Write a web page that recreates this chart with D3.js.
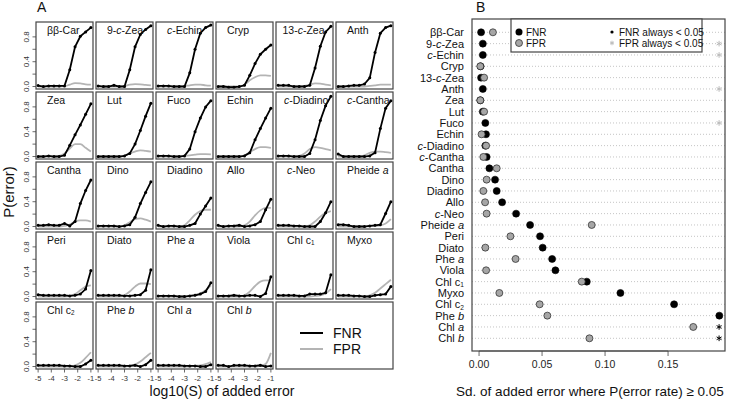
<!DOCTYPE html>
<html><head><meta charset="utf-8">
<script src="https://cdn.jsdelivr.net/npm/d3@7"></script>
<style>body{margin:0;background:#fff} text{font-family:"Liberation Sans",Arial,sans-serif;fill:#111}</style>
</head><body><svg id="c" width="729" height="401"></svg>
<script>
// ---------- data ----------
const pigments = ["ββ-Car","9-_c_-Zea","_c_-Echin","Cryp","13-_c_-Zea","Anth",
  "Zea","Lut","Fuco","Echin","_c_-Diadino","_c_-Cantha",
  "Cantha","Dino","Diadino","Allo","_c_-Neo","Pheide _a_",
  "Peri","Diato","Phe _a_","Viola","Chl c~1","Myxo",
  "Chl c~2","Phe _b_","Chl _a_","Chl _b_"];
const logS = [-5,-4.6,-4.2,-3.8,-3.4,-3,-2.6,-2.2,-1.8,-1.4,-1];
const fnrCurves = [
  [0.015,0.0,0.01,0.01,0.01,0.01,0.27,0.64,0.81,0.88,0.95],
  [0.01,0.0,0.0,0.02,0.0,0.0,0.27,0.64,0.84,0.92,0.98],
  [0.01,0.01,0.01,0.0,0.0,0.0,0.22,0.6,0.86,0.95,0.99],
  [0.0,0.0,-0.01,-0.01,0.0,0.02,0.18,0.37,0.52,0.6,0.67],
  [0.02,0.02,0.02,0.0,0.0,0.0,0.02,0.3,0.65,0.88,0.97],
  [0.0,0.0,0.01,0.02,0.02,0.04,0.14,0.55,0.86,0.95,0.98],
  [0.0,0.0,0.01,0.0,0.0,0.02,0.18,0.35,0.51,0.68,0.85],
  [0.0,0.0,0.0,0.0,0.0,0.01,0.05,0.2,0.42,0.65,0.86],
  [0.01,0.01,0.01,0.0,0.0,0.01,0.12,0.4,0.62,0.8,0.9],
  [0.0,0.0,0.0,0.0,0.0,0.01,0.06,0.27,0.45,0.62,0.78],
  [0.01,0.01,0.01,0.0,0.0,0.0,0.05,0.27,0.58,0.82,0.97],
  [0.04,0.0,0.0,0.0,0.0,0.0,0.01,0.06,0.45,0.78,0.9],
  [0.02,0.02,0.03,0.02,0.02,0.05,0.01,0.08,0.37,0.58,0.75],
  [0.01,0.01,0.01,0.01,0.0,0.01,0.03,0.15,0.37,0.55,0.72],
  [0.02,0.0,0.01,0.01,0.0,0.0,0.02,0.05,0.2,0.33,0.46],
  [0.02,0.0,0.01,0.01,0.02,0.0,0.01,0.03,0.08,0.27,0.44],
  [0.02,0.02,0.02,0.01,0.01,0.0,0.0,0.0,0.08,0.22,0.4],
  [0.03,0.03,0.02,0.0,0.0,0.0,0.01,0.02,0.03,0.21,0.4],
  [0.03,0.02,0.02,0.02,0.02,0.02,0.01,0.02,0.04,0.12,0.42],
  [0.02,0.02,0.02,0.02,0.02,0.01,0.01,0.02,0.03,0.1,0.43],
  [0.01,0.01,0.01,0.01,0.0,0.0,0.01,0.02,0.04,0.08,0.22],
  [0.01,0.01,0.01,0.02,0.01,0.01,0.02,0.02,0.0,0.05,0.32],
  [0.02,0.02,0.02,0.02,0.01,0.01,0.04,0.04,0.04,0.06,0.35],
  [0.02,0.02,0.02,0.01,0.01,0.0,0.0,0.02,0.03,0.04,0.16],
  [0.02,0.02,0.02,0.02,0.02,0.01,0.01,0.0,0.0,0.04,0.1],
  [0.02,0.02,0.02,0.02,0.02,0.01,0.01,0.02,0.0,0.03,0.1],
  [0.02,0.02,0.02,0.02,0.02,0.01,0.01,0.01,0.0,0.0,0.03],
  [0.02,0.02,0.0,0.02,0.02,0.02,0.01,0.01,0.02,0.0,0.01]
];
const fprCurves = [
  [0,0,0,0,0,0.005,0.03,0.055,0.05,0.035,0.03],
  [0,0,0,0,0,0.01,0.03,0.04,0.035,0.025,0.02],
  [0,0,0,0,0,0.005,0.02,0.03,0.03,0.02,0.015],
  [0,0,0,0,0,0.03,0.1,0.15,0.18,0.18,0.17],
  [0,0,0,0,0,0.01,0.03,0.05,0.045,0.03,0.02],
  [0,0,0,0,0,0,0.01,0.02,0.03,0.03,0.03],
  [0,0,0,0,0.01,0.05,0.13,0.2,0.2,0.14,0.08],
  [0,0,0,0,0,0.01,0.05,0.08,0.1,0.09,0.08],
  [0,0,0,0,0,0.01,0.02,0.03,0.04,0.04,0.035],
  [0,0,0,0,0,0.02,0.07,0.12,0.15,0.15,0.14],
  [0,0,0,0,0.01,0.05,0.12,0.15,0.14,0.12,0.1],
  [0,0,0,0,0,0.02,0.06,0.08,0.08,0.07,0.06],
  [0,0,0,0,0,0.01,0.03,0.08,0.1,0.1,0.08],
  [0,0,0,0,0,0.02,0.07,0.12,0.13,0.11,0.08],
  [0,0,0,0,0,0.02,0.1,0.19,0.25,0.27,0.27],
  [0,0,0,0,0,0.02,0.08,0.18,0.26,0.3,0.3],
  [0,0,0,0,0,0,0.02,0.08,0.16,0.22,0.25],
  [0,0,0,0,0,0,0.01,0.01,0.02,0.05,0.12],
  [0,0,0,0,0,0,0.01,0.04,0.1,0.16,0.18],
  [0,0,0,0,0,0.02,0.08,0.16,0.21,0.21,0.2],
  [0,0,0,0,0,0,0.01,0.03,0.05,0.1,0.18],
  [0,0,0,0,0,0.02,0.08,0.17,0.24,0.26,0.26],
  [0,0,0,0,0,0,0,0.01,0.02,0.05,0.12],
  [0,0,0,0,0,0,0.02,0.06,0.13,0.2,0.27],
  [0,0,0,0,0,0,0,0.02,0.06,0.14,0.23],
  [0,0,0,0,0,0,0.01,0.03,0.08,0.15,0.22],
  [0,0,0,0,0,0,0,0.01,0.02,0.04,0.07],
  [0,0,0,0,0,0,0,0,0.01,0.04,0.22]
];
// Panel B: sd of added error where P >= 0.05 (null = always < 0.05)
const sdFNR = [0.0016,0.003,0.003,0.0012,0.0016,0.003,0.001,0.003,0.005,0.0055,0.005,0.006,
  0.0082,0.0127,0.014,0.0183,0.0294,0.0405,0.0484,0.0505,0.058,0.0606,0.0855,0.1122,0.1548,0.1907,null,null];
const sdFPR = [0.011,null,null,0.001,0.004,null,0.001,0.004,null,0.002,0.0056,0.0034,
  0.014,0.006,0.0034,0.0048,0.006,0.0894,0.0249,0.005,0.029,0.0056,0.0815,0.0161,0.0481,0.0542,0.170,0.0876];
const xTicksA = [-5,-4,-3,-2,-1];
const yTicksA = [0,0.2,0.4,0.6,0.8];
const yLabelsA = [0,0.4,0.8];
const xTicksB = [0,0.05,0.10,0.15];

// ---------- helpers ----------
function rich(sel, str){
  str.split(/(_[^_]+_|~\d)/).filter(s=>s).forEach(tok=>{
    if(tok.length>2 && tok[0]==='_' && tok[tok.length-1]==='_')
      sel.append('tspan').attr('font-style','italic').text(tok.slice(1,-1));
    else if(tok[0]==='~')
      sel.append('tspan').attr('font-size','0.6em').attr('dy','0.2em').text(tok.slice(1));
    else sel.append('tspan').text(tok);
  });
}
const svg = d3.select('#c');
const FR = '#444';
const GREY = '#b4b4b4';
const asterisk = d3.symbol().type(d3.symbolAsterisk || d3.symbolCross).size(22);

// ---------- Panel A ----------
const PW = 57, PH = 67, PX0 = 36, PY0 = 22, DX = 60, DY = 70;
const xA = d3.scaleLinear().domain([-5.16,-0.84]).range([0,PW]);
const yA = d3.scaleLinear().domain([-0.04,1.04]).range([PH,0]);
const titleShift = {4:-4.5, 10:-3};

pigments.forEach((name,i)=>{
  const r = Math.floor(i/6), c = i%6;
  const g = svg.append('g').attr('transform',`translate(${PX0+c*DX},${PY0+r*DY})`);
  g.append('path').datum(fprCurves[i].map((v,k)=>[logS[k],v]))
    .attr('d', d3.line().x(d=>xA(d[0])).y(d=>yA(d[1])).curve(d3.curveMonotoneX))
    .attr('fill','none').attr('stroke',GREY).attr('stroke-width',1.8);
  const fd = fnrCurves[i].map((v,k)=>[logS[k],v]);
  g.append('path').datum(fd)
    .attr('d', d3.line().x(d=>xA(d[0])).y(d=>yA(d[1])))
    .attr('fill','none').attr('stroke','#000').attr('stroke-width',1.8);
  g.selectAll('circle').data(fd).join('circle')
    .attr('cx',d=>xA(d[0])).attr('cy',d=>yA(d[1])).attr('r',1.5).attr('fill','#000');
  g.append('rect').attr('x',0).attr('y',0).attr('width',PW).attr('height',PH)
    .attr('fill','none').attr('stroke',FR).attr('stroke-width',1.2);
  const t = g.append('text').attr('x',11+(titleShift[i]||0)).attr('y',12).attr('font-size',10.5);
  rich(t,name);
  if(c===0){
    g.selectAll('line.yt').data(yTicksA).join('line')
      .attr('x1',-3.5).attr('x2',0).attr('y1',d=>yA(d)).attr('y2',d=>yA(d))
      .attr('stroke',FR).attr('stroke-width',0.8);
    g.selectAll('text.yl').data(yLabelsA).join('text').attr('class','yl')
      .attr('transform',d=>`translate(-7,${yA(d)}) rotate(-90)`)
      .attr('text-anchor','middle').attr('font-size',8).style('fill','#333')
      .text(d=>d.toFixed(1));
  }
  if(r===4){
    g.selectAll('line.xt').data(xTicksA).join('line')
      .attr('y1',PH).attr('y2',PH+3.5).attr('x1',d=>xA(d)).attr('x2',d=>xA(d))
      .attr('stroke',FR).attr('stroke-width',0.8);
    g.selectAll('text.xl').data(xTicksA).join('text').attr('class','xl')
      .attr('x',d=>xA(d)).attr('y',PH+12).attr('text-anchor','middle')
      .attr('font-size',7.5).style('fill','#333').text(d=>'-'+Math.abs(d));
  }
});
// Legend box for panel A
{
  const lx = PX0+4*DX, ly = PY0+4*DY, lw = 2*DX-3;
  const g = svg.append('g').attr('transform',`translate(${lx},${ly})`);
  g.append('rect').attr('width',lw).attr('height',PH).attr('fill','none').attr('stroke',FR).attr('stroke-width',1.2);
  [['FNR','#000',31],['FPR',GREY,47]].forEach(([lab,col,yy])=>{
    g.append('line').attr('x1',24).attr('x2',47).attr('y1',yy).attr('y2',yy).attr('stroke',col).attr('stroke-width',2);
    g.append('text').attr('x',57).attr('y',yy+5).attr('font-size',14).text(lab);
  });
}
svg.append('text').attr('x',37).attr('y',12).attr('font-size',14).text('A');
svg.append('text').attr('transform','translate(14,192) rotate(-90)').attr('text-anchor','middle')
  .attr('font-size',15).text('P(error)');
svg.append('text').attr('x',222).attr('y',396).attr('text-anchor','middle').attr('font-size',14)
  .text('log10(S) of added error');

// ---------- Panel B ----------
const BL = 472, BR = 725, BT = 19, BB = 351;
const xB = d3.scaleLinear().domain([-0.0056,0.1952]).range([BL,BR]);
const yB = d3.scalePoint().domain(d3.range(pigments.length)).range([32.3,338.3]);
const gB = svg.append('g');
gB.selectAll('line.grid').data(pigments).join('line')
  .attr('x1',BL).attr('x2',BR).attr('y1',(d,i)=>yB(i)).attr('y2',(d,i)=>yB(i))
  .attr('stroke','#aaa').attr('stroke-width',0.7).attr('stroke-dasharray','1,2');
gB.selectAll('text.lab').data(pigments).join('text').attr('class','lab')
  .attr('x',464).attr('y',(d,i)=>yB(i)+4).attr('text-anchor','end').attr('font-size',11)
  .each(function(d){ rich(d3.select(this), d); });
const starX = xB(0.1905);
gB.selectAll('circle.fnr').data(sdFNR.map((v,i)=>[v,i]).filter(d=>d[0]!==null)).join('circle')
  .attr('cx',d=>xB(d[0])).attr('cy',d=>yB(d[1])).attr('r',3.5).attr('fill','#000').attr('stroke','#000').attr('stroke-width',0.6);
gB.selectAll('circle.fpr').data(sdFPR.map((v,i)=>[v,i]).filter(d=>d[0]!==null)).join('circle')
  .attr('cx',d=>xB(d[0])).attr('cy',d=>yB(d[1])).attr('r',3.5).attr('fill','#a6a6a6').attr('stroke','#222').attr('stroke-width',0.7);
gB.selectAll('path.sfnr').data(sdFNR.map((v,i)=>[v,i]).filter(d=>d[0]===null)).join('path')
  .attr('transform',d=>`translate(${starX},${yB(d[1])})`).attr('d',asterisk)
  .attr('fill','none').attr('stroke','#000').attr('stroke-width',1);
gB.selectAll('path.sfpr').data(sdFPR.map((v,i)=>[v,i]).filter(d=>d[0]===null)).join('path')
  .attr('transform',d=>`translate(${starX},${yB(d[1])})`).attr('d',asterisk)
  .attr('fill','none').attr('stroke','#bbb').attr('stroke-width',1);
gB.append('rect').attr('x',BL).attr('y',BT).attr('width',BR-BL).attr('height',BB-BT)
  .attr('fill','none').attr('stroke',FR).attr('stroke-width',1.2);
// x axis
gB.selectAll('line.bt').data(xTicksB).join('line')
  .attr('x1',d=>xB(d)).attr('x2',d=>xB(d)).attr('y1',BB).attr('y2',BB+5).attr('stroke',FR).attr('stroke-width',0.8);
gB.append('line').attr('x1',xB(0)).attr('x2',xB(0.15)).attr('y1',BB).attr('y2',BB).attr('stroke',FR).attr('stroke-width',0.8);
gB.selectAll('text.bl').data(xTicksB).join('text')
  .attr('x',d=>xB(d)).attr('y',BB+17).attr('text-anchor','middle').attr('font-size',10.5).style('fill','#222')
  .text(d=>d.toFixed(2));
svg.append('text').attr('x',590).attr('y',396).attr('text-anchor','middle').attr('font-size',13.5)
  .text('Sd. of added error where P(error rate) \u2265 0.05');
svg.append('text').attr('x',476).attr('y',12).attr('font-size',14).text('B');
// legend B
{
  const g = svg.append('g');
  g.append('rect').attr('x',511).attr('y',BT).attr('width',191).attr('height',33).attr('fill','#fff').attr('stroke',FR).attr('stroke-width',1.2);
  g.append('circle').attr('cx',519).attr('cy',32).attr('r',3.5).attr('fill','#000');
  g.append('circle').attr('cx',519).attr('cy',43).attr('r',3.5).attr('fill','#a6a6a6').attr('stroke','#222').attr('stroke-width',0.7);
  g.append('text').attr('x',526).attr('y',35.5).attr('font-size',10).text('FNR');
  g.append('text').attr('x',526).attr('y',46.5).attr('font-size',10).text('FPR');
  g.append('circle').attr('cx',612).attr('cy',32).attr('r',1.6).attr('fill','#000');
  g.append('path').attr('transform','translate(612,43)').attr('d',d3.symbol().type(d3.symbolAsterisk || d3.symbolCross).size(14))
    .attr('fill','none').attr('stroke','#bbb').attr('stroke-width',1);
  g.append('text').attr('x',619).attr('y',35.5).attr('font-size',10).text('FNR always < 0.05');
  g.append('text').attr('x',619).attr('y',46.5).attr('font-size',10).text('FPR always < 0.05');
}
</script></body></html>
